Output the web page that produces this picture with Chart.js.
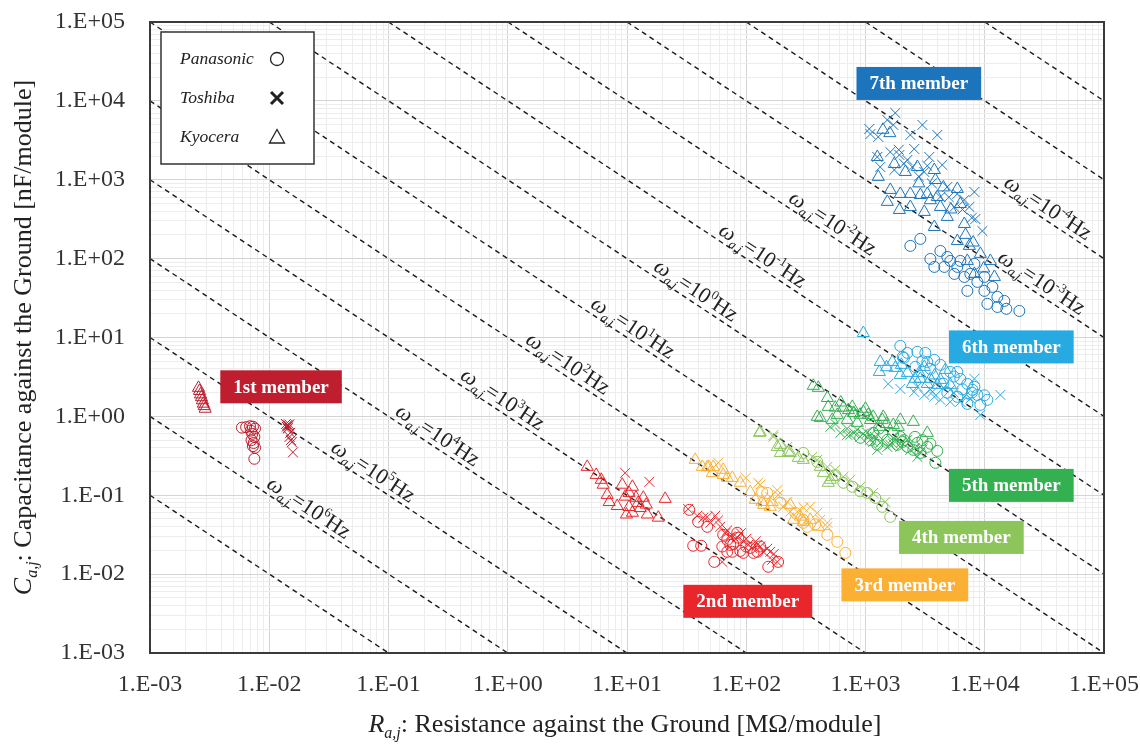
<!DOCTYPE html>
<html>
<head>
<meta charset="utf-8">
<script src="https://cdn.jsdelivr.net/npm/chart.js@4.4.0/dist/chart.umd.min.js"></script>
<style>
  html, body { margin: 0; padding: 0; background: #fff; }
  #wrap { width: 1140px; height: 747px; }
</style>
</head>
<body>
<div id="wrap"><canvas id="rcChart" width="1140" height="747"></canvas></div>
<script>
// axis decades and their labels
const decadeValues = [1e-3, 1e-2, 1e-1, 1, 10, 100, 1e3, 1e4, 1e5];
const xTickLabels = ['1.E-03', '1.E-02', '1.E-01', '1.E+00', '1.E+01', '1.E+02', '1.E+03', '1.E+04', '1.E+05'];
const yTickLabels = ['1.E-03', '1.E-02', '1.E-01', '1.E+00', '1.E+01', '1.E+02', '1.E+03', '1.E+04', '1.E+05'];

// [R (MOhm/module), C (nF/module)]
// 1st member
const m1Pan = [[5.9e-3,0.72],[6.4e-3,0.73],[6.9e-3,0.75],[7.3e-3,0.74],[7.6e-3,0.70],[7.0e-3,0.66],[7.2e-3,0.60],[7.5e-3,0.55],[7.1e-3,0.50],[7.4e-3,0.46],[7.3e-3,0.42],[7.6e-3,0.40],[7.5e-3,0.29]];
const m1Tos = [[1.38e-2,0.80],[1.42e-2,0.78],[1.45e-2,0.76],[1.40e-2,0.74],[1.44e-2,0.72],[1.47e-2,0.79],[1.43e-2,0.70],[1.50e-2,0.62],[1.48e-2,0.55],[1.52e-2,0.50],[1.55e-2,0.47],[1.58e-2,0.35]];
const m1Kyo = [[2.55e-3,2.3],[2.6e-3,2.1],[2.65e-3,1.9],[2.7e-3,1.75],[2.75e-3,1.6],[2.8e-3,1.45],[2.85e-3,1.35],[2.9e-3,1.25]];
// 2nd member
const m2Pan = [[33.3,0.0653],[39.5,0.046],[47.1,0.0398],[35.9,0.0229],[41.9,0.0229],[53.9,0.0143],[64.1,0.0315],[69.3,0.0272],[73.5,0.0235],[77.8,0.024],[84,0.0334],[85.7,0.029],[89.1,0.0197],[94.4,0.0186],[100,0.0224],[108,0.0215],[115,0.0186],[124,0.0192],[131,0.0224],[153,0.0124],[185,0.0143],[63,0.0224],[69.3,0.0192],[76.4,0.0192]];
const m2Tos = [[9.66,0.192],[15.4,0.148],[32.6,0.067],[38.8,0.055],[43.6,0.052],[47.1,0.053],[55,0.055],[60.5,0.040],[69.3,0.036],[73.5,0.030],[84,0.029],[94.4,0.026],[104,0.0235],[112,0.0215],[124,0.0235],[131,0.0224],[139,0.0192],[159,0.0192],[165,0.0152],[182,0.0143],[63,0.0143],[77.8,0.030],[66.7,0.033],[50,0.045],[58,0.048],[90,0.033],[100,0.028],[120,0.026],[150,0.021],[170,0.018]];
const m2Kyo = [[4.64,0.229],[5.52,0.181],[6.08,0.157],[6.31,0.136],[6.82,0.101],[7.09,0.082],[8.28,0.073],[9.12,0.136],[9.66,0.096],[10.4,0.107],[11.1,0.128],[10.4,0.071],[9.9,0.057],[11.1,0.060],[11.9,0.093],[12.4,0.080],[12.9,0.069],[13.7,0.093],[14.5,0.076],[14.8,0.057],[18.3,0.052],[20.9,0.090]];
// 3rd member
const m3Pan = [[136,0.110],[150,0.107],[193,0.080],[301,0.0447],[325,0.0398],[479,0.0315],[580,0.0257],[678,0.0186],[301,0.0488],[258,0.0598],[379,0.0428]];
const m3Tos = [[58.2,0.258],[131,0.136],[185,0.101],[204,0.0713],[268,0.0616],[344,0.0713],[418,0.0488],[479,0.0447],[126,0.144],[182,0.116],[221,0.0824],[301,0.070],[394,0.0598],[479,0.0398],[99,0.166],[234,0.062],[159,0.095]];
const m3Kyo = [[37.3,0.281],[42.8,0.229],[47.1,0.226],[51.9,0.192],[52.9,0.229],[64.1,0.21],[69.3,0.166],[76.4,0.166],[89.1,0.144],[108,0.110],[119,0.0875],[136,0.0824],[159,0.0713],[165,0.0824],[248,0.0488],[301,0.046],[234,0.0755],[344,0.0488],[402,0.0398],[48.5,0.229],[64.1,0.181],[140,0.0755],[284,0.0536]];
// 4th member
const m4Pan = [[301,0.344],[394,0.265],[652,0.144],[775,0.128],[1035,0.107],[1208,0.0927],[1384,0.0713],[1614,0.0532],[558,0.18],[904,0.112]];
const m4Tos = [[169,0.55],[358,0.307],[479,0.229],[652,0.171],[904,0.128],[1161,0.107],[1465,0.0824],[169,0.58],[221,0.41],[394,0.281],[558,0.21],[745,0.157]];
const m4Kyo = [[129,0.618],[193,0.436],[225,0.355],[273,0.298],[418,0.229],[526,0.171],[487,0.144],[193,0.344],[131,0.63],[182,0.41],[234,0.344],[301,0.281],[443,0.192],[507,0.157]];
// 5th member
const m5Pan = [[904,0.535],[1161,0.618],[1524,0.504],[1958,0.55],[2244,0.41],[2723,0.461],[3296,0.41],[4000,0.365],[3855,0.258],[2884,0.344],[1849,0.436],[2517,0.376],[1300,0.7],[1700,0.6],[2100,0.5],[3000,0.5],[3500,0.45],[2600,0.55],[1100,0.5],[1256,0.436],[2050,0.475]];
const m5Tos = [[507,0.736],[615,0.618],[745,0.583],[904,0.55],[1096,0.504],[1330,0.461],[1524,0.41],[1958,0.41],[2377,0.376],[2884,0.344],[1256,0.376],[853,0.675],[1035,0.618],[1711,0.535],[2244,0.504],[560,0.8],[700,0.7],[950,0.6],[1200,0.55],[1400,0.5],[1700,0.45],[2000,0.47],[2600,0.4],[3000,0.38],[800,0.62],[1100,0.58],[703,0.583],[1161,0.475],[1614,0.436],[2723,0.307]];
const m5Kyo = [[365,2.44],[402,2.30],[479,1.71],[487,1.32],[558,1.29],[418,0.957],[652,1.29],[775,1.32],[959,1.14],[1161,0.986],[1409,0.986],[1958,0.903],[2517,0.851],[3296,0.618],[526,0.903],[703,0.903],[853,0.828],[1330,0.736],[1884,0.736],[580,1.045],[620,1.5],[720,1.2],[900,1.05],[1100,0.9],[1500,0.8],[1000,1.25],[800,1.1],[394,0.986],[791,1.107],[1055,1.045],[1384,0.903],[1711,0.78]];
// 6th member
const m6Pan = [[1958,7.83],[2244,6.38],[2723,6.57],[3176,6.38],[3776,5.20],[4246,4.50],[5140,3.66],[6237,2.99],[7145,2.58],[8185,2.37],[8670,1.87],[10520,1.62],[7145,1.44],[9185,1.40],[2618,4.24],[4853,1.99],[5888,1.77],[2100,5.5],[3000,5.0],[3500,4.0],[5500,3.2],[6500,2.2],[4500,2.6],[7800,2.0],[2050,5.68],[3296,4.9],[5888,3.66],[7900,2.17],[9930,1.85]];
const m6Tos = [[1553,2.58],[1958,2.23],[2564,2.04],[3113,1.87],[3776,1.77],[4246,1.62],[5140,1.53],[6237,1.53],[8185,2.99],[9185,1.045],[13520,1.87],[7568,1.68],[5500,2.0],[4500,2.3],[6800,1.8],[3500,2.2],[5140,2.17],[3640,2.04],[2723,2.37]];
const m6Kyo = [[959,11.4],[1330,4.9],[1306,3.66],[1679,4.9],[1778,4.12],[2244,3.56],[2825,3.56],[2884,2.99],[3499,2.99],[4246,2.90],[4671,3.88],[3113,4.24],[2472,2.58],[5140,2.51],[4000,2.51],[2000,4.5],[3800,3.3],[2600,3.0],[1500,4.2],[1958,3.36],[3296,2.58]];
// 7th member
const m7Pan = [[2377,145],[2884,178],[3499,99],[4246,125],[5140,93.5],[4581,78.5],[5888,78.5],[6745,58.6],[5560,64],[7568,64],[8670,50.7],[9930,58.6],[7145,39],[9930,39],[11590,43.8],[12760,32.7],[10520,26.7],[14590,29.1],[12760,24.4],[15170,23.1],[19500,21.7],[3776,78.5],[4853,105],[8185,85.7],[6237,93.5]];
const m7Tos = [[1076,4405],[1280,3487],[1524,5728],[1778,7025],[1711,4955],[2377,3698],[2999,4955],[4000,3698],[1256,1945],[1614,2249],[1923,2062],[2244,1782],[2564,2455],[3428,1945],[4406,1541],[1330,1452],[1745,1330],[2472,1452],[3113,1256],[4853,811],[5888,661],[6745,555],[8185,700],[7430,452],[8340,318],[9550,224],[4246,605],[5560,452],[1100,3800],[2100,1600],[2800,1100],[3600,900],[5000,600],[6500,420],[7800,330],[1900,2400],[3300,1500]];
const m7Kyo = [[1256,1945],[1280,1087],[1745,1585],[2158,1256],[2723,1452],[3776,1330],[1614,743],[1958,661],[2377,661],[2884,641],[1524,524],[1923,414],[2377,452],[3296,661],[3855,993],[4000,605],[4246,452],[4853,338],[3776,252],[5888,764],[6237,493],[6745,275],[5888,167],[7430,145],[7145,93.5],[9185,115],[11140,93.5],[8185,64],[12050,58.6],[3113,391],[1400,4300],[1600,3900],[2800,900],[3500,550],[4500,800],[5200,420],[6900,200],[8000,160],[9800,75]];

const memberNames = ['1st member', '2nd member', '3rd member', '4th member', '5th member', '6th member', '7th member'];
const memberColors = ['#be1e2d', '#e8262b', '#fbb034', '#8cc55a', '#33b050', '#27aae1', '#1c75bc'];
const memberSeries = [
  [m1Pan, m1Tos, m1Kyo], [m2Pan, m2Tos, m2Kyo], [m3Pan, m3Tos, m3Kyo], [m4Pan, m4Tos, m4Kyo],
  [m5Pan, m5Tos, m5Kyo], [m6Pan, m6Tos, m6Kyo], [m7Pan, m7Tos, m7Kyo]
];
// where the member tags sit, in data coordinates (box centre)
const memberTagAt = [[0.01256, 2.37], [103, 0.00452], [2138, 0.00731], [6368, 0.0292], [16710, 0.1334], [16710, 7.6], [2800, 16630]];

const makers = ['Panasonic', 'Toshiba', 'Kyocera'];
const makerStyles = ['circle', 'crossRot', 'triangle'];
const makerRadius = [5.5, 7, 7];

// omega = 1/(R*C) reference lines, R*C = 10^(3-n) MOhm*nF
const omegaExp = [7, 6, 5, 4, 3, 2, 1, 0, -1, -2, -3, -4, -5, -6];
const omegaLabelExp = [6, 5, 4, 3, 2, 1, 0, -1, -2, -3, -4];
const omegaLabelR = [8.8e-3, 0.0305, 0.106, 0.372, 1.31, 4.59, 15.5, 54.4, 210, 11900, 13400];

const SERIF = '"Liberation Serif", "Times New Roman", serif';
const X_MIN = 1e-3, X_MAX = 1e5, Y_MIN = 1e-3, Y_MAX = 1e5;

function isDecade(v) {
    const l = Math.log10(v);
    return Math.abs(l - Math.round(l)) < 1e-9;
}
function decadeLabel(v, labels) {
    if (!isDecade(v)) return '';
    const i = decadeValues.findIndex(d => Math.abs(Math.log10(d) - Math.log10(v)) < 1e-9);
    return i >= 0 ? labels[i] : '';
}
function gridValues() {
    const vals = [];
    for (let i = 0; i < decadeValues.length - 1; i++) {
        for (let m = 1; m <= 9; m++) vals.push(Number((decadeValues[i] * m).toPrecision(6)));
    }
    vals.push(decadeValues[decadeValues.length - 1]);
    return vals;
}

// datasets
const datasets = [];
memberSeries.forEach(function(group, mi) {
    group.forEach(function(points, ki) {
        datasets.push({
            label: memberNames[mi] + ' ' + makers[ki],
            data: points.map(p => ({x: p[0], y: p[1]})),
            pointStyle: makerStyles[ki],
            pointRadius: makerRadius[ki],
            pointBorderWidth: 1,
            borderColor: memberColors[mi],
            backgroundColor: 'rgba(0,0,0,0)',
            order: 1
        });
    });
});
omegaExp.forEach(function(n) {
    const rc = Math.pow(10, 3 - n);
    const r1 = Math.max(X_MIN, rc / Y_MAX);
    const r2 = Math.min(X_MAX, rc / Y_MIN);
    datasets.push({
        label: 'omega 10^' + n,
        data: [{x: r1, y: rc / r1}, {x: r2, y: rc / r2}],
        showLine: true,
        borderColor: '#1a1a1a',
        borderWidth: 1.4,
        borderDash: [5, 4],
        pointRadius: 0,
        order: 50
    });
});

function drawOmegaLabel(ctx, px, py, ang, n) {
    ctx.save();
    ctx.translate(px, py);
    ctx.rotate(ang);
    ctx.fillStyle = '#222';
    ctx.textAlign = 'left';
    ctx.textBaseline = 'alphabetic';
    let cx = 0;
    const put = function(txt, font, dy) {
        ctx.font = font;
        ctx.fillText(txt, cx, dy);
        cx += ctx.measureText(txt).width;
    };
    put('\u03c9', 'italic 22px ' + SERIF, 0);
    put('a,j', 'italic 13px ' + SERIF, 5);
    put('=10', '22px ' + SERIF, 0);
    put(String(n), '13px ' + SERIF, -9);
    put('Hz', '22px ' + SERIF, 0);
    ctx.restore();
}

function drawRichText(ctx, pieces, x, y, rot) {
    ctx.save();
    ctx.translate(x, y);
    ctx.rotate(rot);
    ctx.fillStyle = '#222';
    ctx.textBaseline = 'alphabetic';
    ctx.textAlign = 'left';
    let total = 0;
    pieces.forEach(p => { ctx.font = p.font; total += ctx.measureText(p.text).width; });
    let cx = -total / 2;
    pieces.forEach(p => {
        ctx.font = p.font;
        ctx.fillText(p.text, cx, p.dy || 0);
        cx += ctx.measureText(p.text).width;
    });
    ctx.restore();
}

const decorations = {
    id: 'decorations',
    afterDatasetsDraw(chart) {
        const {ctx, chartArea: a, scales: {x, y}} = chart;
        // slope of the omega lines in pixels
        const dx = x.getPixelForValue(10) - x.getPixelForValue(1);
        const dy = y.getPixelForValue(1) - y.getPixelForValue(10);
        const ang = Math.atan2(dy, dx);

        omegaLabelExp.forEach(function(n, i) {
            const rc = Math.pow(10, 3 - n);
            const r = omegaLabelR[i];
            const px = x.getPixelForValue(r) + 5 * Math.sin(ang);
            const py = y.getPixelForValue(rc / r) - 5 * Math.cos(ang);
            drawOmegaLabel(ctx, px, py, ang, n);
        });

        // member tags
        ctx.save();
        ctx.font = 'bold 19px ' + SERIF;
        ctx.textAlign = 'center';
        ctx.textBaseline = 'middle';
        memberNames.forEach(function(name, i) {
            const cx = x.getPixelForValue(memberTagAt[i][0]);
            const cy = y.getPixelForValue(memberTagAt[i][1]);
            const w = ctx.measureText(name).width + 26;
            const h = 33;
            ctx.fillStyle = memberColors[i];
            ctx.fillRect(cx - w / 2, cy - h / 2, w, h);
            ctx.fillStyle = '#ffffff';
            ctx.fillText(name, cx, cy + 1);
        });
        ctx.restore();

        // legend box
        ctx.save();
        const lx = a.left + 11, ly = a.top + 10, lw = 153, lh = 132;
        ctx.fillStyle = '#ffffff';
        ctx.fillRect(lx, ly, lw, lh);
        ctx.strokeStyle = '#333';
        ctx.lineWidth = 1.5;
        ctx.strokeRect(lx, ly, lw, lh);
        ctx.font = 'italic 17.5px ' + SERIF;
        ctx.fillStyle = '#222';
        ctx.textBaseline = 'middle';
        ctx.textAlign = 'left';
        makers.forEach(function(name, i) {
            const ty = ly + 27 + i * 39;
            ctx.fillText(name, lx + 19, ty);
            const sx = lx + 116;
            ctx.strokeStyle = '#222';
            ctx.beginPath();
            if (i === 0) {
                ctx.lineWidth = 1.3;
                ctx.arc(sx, ty, 6.5, 0, Math.PI * 2);
            } else if (i === 1) {
                ctx.lineWidth = 3;
                ctx.moveTo(sx - 6, ty - 6); ctx.lineTo(sx + 6, ty + 6);
                ctx.moveTo(sx + 6, ty - 6); ctx.lineTo(sx - 6, ty + 6);
            } else {
                ctx.lineWidth = 1.3;
                ctx.moveTo(sx, ty - 7.5); ctx.lineTo(sx + 7.5, ty + 6); ctx.lineTo(sx - 7.5, ty + 6); ctx.closePath();
            }
            ctx.stroke();
        });
        ctx.restore();

        // plot frame
        ctx.save();
        ctx.strokeStyle = '#3a3a3a';
        ctx.lineWidth = 2;
        ctx.strokeRect(a.left, a.top, a.right - a.left, a.bottom - a.top);
        ctx.restore();
    },
    afterDraw(chart) {
        const {ctx, chartArea: a} = chart;
        drawRichText(ctx, [
            {text: 'R', font: 'italic 26px ' + SERIF},
            {text: 'a,j', font: 'italic 16px ' + SERIF, dy: 6},
            {text: ': Resistance against the Ground [M\u03a9/module]', font: '26px ' + SERIF}
        ], (a.left + a.right) / 2 - 2, 732, 0);
        drawRichText(ctx, [
            {text: 'C', font: 'italic 26px ' + SERIF},
            {text: 'a,j', font: 'italic 16px ' + SERIF, dy: 6},
            {text: ': Capacitance against the Ground [nF/module]', font: '26px ' + SERIF}
        ], 31, (a.top + a.bottom) / 2, -Math.PI / 2);
    }
};

const gridTicks = gridValues();

new Chart(document.getElementById('rcChart'), {
    type: 'scatter',
    data: { datasets: datasets },
    options: {
        responsive: false,
        animation: false,
        events: [],
        layout: { padding: { left: 0, right: 36, top: 22, bottom: 0 } },
        plugins: {
            legend: { display: false },
            tooltip: { enabled: false }
        },
        scales: {
            x: {
                type: 'logarithmic',
                min: X_MIN,
                max: X_MAX,
                afterBuildTicks: function(scale) { scale.ticks = gridTicks.map(v => ({value: v})); },
                afterFit: function(scale) {
                    scale.height = 94;
                    scale.paddingLeft = 0;
                    scale.paddingRight = 0;
                },
                border: { display: false },
                grid: {
                    drawTicks: false,
                    lineWidth: 1,
                    color: ctx => (ctx.tick && isDecade(ctx.tick.value)) ? '#d4d4d4' : '#ededed'
                },
                ticks: {
                    autoSkip: false,
                    maxRotation: 0,
                    minRotation: 0,
                    padding: 17,
                    color: '#333',
                    font: { family: SERIF, size: 24 },
                    callback: v => decadeLabel(v, xTickLabels)
                }
            },
            y: {
                type: 'logarithmic',
                min: Y_MIN,
                max: Y_MAX,
                afterBuildTicks: function(scale) { scale.ticks = gridTicks.map(v => ({value: v})); },
                afterFit: function(scale) {
                    scale.width = 150;
                    scale.paddingTop = 0;
                    scale.paddingBottom = 0;
                },
                border: { display: false },
                grid: {
                    drawTicks: false,
                    lineWidth: 1,
                    color: ctx => (ctx.tick && isDecade(ctx.tick.value)) ? '#d4d4d4' : '#ededed'
                },
                ticks: {
                    autoSkip: false,
                    padding: 25,
                    color: '#333',
                    font: { family: SERIF, size: 24 },
                    callback: v => decadeLabel(v, yTickLabels)
                }
            }
        }
    },
    plugins: [decorations]
});
</script>
</body>
</html>
